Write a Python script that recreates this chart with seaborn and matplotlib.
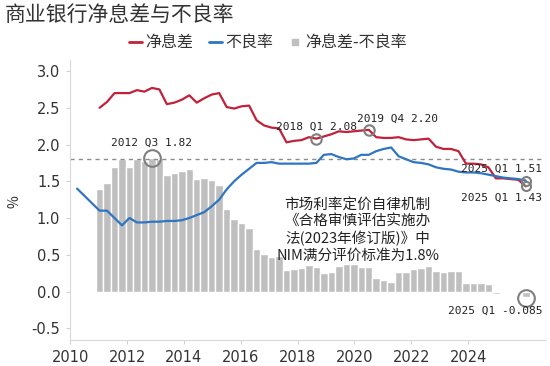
import numpy as np
import pandas as pd
import matplotlib
matplotlib.use('Agg')
import matplotlib.pyplot as plt
from matplotlib.lines import Line2D
import seaborn as sns

# quarterly series, 2010 Q1 .. 2025 Q1
quarters = ['{} Q{}'.format(y, q) for y in range(2010, 2026) for q in range(1, 5)][:61]

nim = [np.nan, np.nan, np.nan, 2.50,
       2.58, 2.70, 2.70, 2.70,
       2.74, 2.72, 2.77, 2.75,
       2.55, 2.57, 2.61, 2.67,
       2.57, 2.63, 2.68, 2.70,
       2.51, 2.49, 2.52, 2.53,
       2.33, 2.26, 2.23, 2.22,
       2.03, 2.05, 2.06, 2.10,
       2.08, 2.11, 2.14, 2.18,
       2.17, 2.18, 2.19, 2.20,
       2.10, 2.09, 2.09, 2.10,
       2.07, 2.06, 2.07, 2.08,
       1.97, 1.94, 1.94, 1.91,
       1.74, 1.74, 1.73, 1.69,
       1.54, 1.54, 1.53, 1.52,
       1.43]

npl = [1.40, 1.30, 1.20, 1.10,
       1.10, 1.00, 0.90, 1.00,
       0.94, 0.94, 0.95, 0.95,
       0.96, 0.96, 0.97, 1.00,
       1.04, 1.08, 1.16, 1.25,
       1.39, 1.50, 1.59, 1.67,
       1.75, 1.75, 1.76, 1.74,
       1.74, 1.74, 1.74, 1.74,
       1.75, 1.86, 1.87, 1.83,
       1.80, 1.81, 1.86, 1.86,
       1.91, 1.94, 1.96, 1.84,
       1.80, 1.76, 1.75, 1.73,
       1.69, 1.67, 1.66, 1.63,
       1.62, 1.62, 1.61, 1.59,
       1.57, 1.55, 1.54, 1.53,
       1.51]

year_ticks = [2010, 2012, 2014, 2016, 2018, 2020, 2022, 2024]
nim_benchmark = 1.8

RED = '#C0223B'
BLUE = '#2E75C2'
BAR = '#BFBFBF'
TXT = '#333333'

df = pd.DataFrame({'quarter': quarters, 'nim': nim, 'npl': npl})
df['idx'] = np.arange(len(df))
df['spread'] = (df['nim'] - df['npl']).round(3)
bars = df.dropna(subset=['spread'])

sns.set_theme(style='white')
plt.rcParams['font.family'] = ['Noto Sans CJK SC', 'DejaVu Sans']
plt.rcParams['axes.unicode_minus'] = False

fig, ax = plt.subplots(figsize=(5.5, 3.66), dpi=100)
fig.subplots_adjust(left=0.1273, right=0.9909, bottom=0.071, top=0.836)

sns.barplot(data=bars, x='idx', y='spread', native_scale=True, color=BAR,
            width=1.0, errorbar=None, saturation=1, ax=ax, zorder=1)
ax.axhline(nim_benchmark, color='#8C8C8C', lw=1, ls=(0, (3, 3)), zorder=2)
sns.lineplot(data=df, x='idx', y='nim', color=RED, lw=1.6, ax=ax, zorder=3)
sns.lineplot(data=df, x='idx', y='npl', color=BLUE, lw=1.6, ax=ax, zorder=3)

# highlighted points
def q(label):
    return quarters.index(label)

marks = [
    (q('2012 Q3'), df['spread'][q('2012 Q3')], 12, '2012 Q3 1.82', (0, 15)),
    (q('2018 Q1'), nim[q('2018 Q1')], 7.5, '2018 Q1 2.08', (0, 12)),
    (q('2019 Q4'), nim[q('2019 Q4')], 7.5, '2019 Q4 2.20', (29, 11)),
    (q('2025 Q1'), npl[q('2025 Q1')], 6.5, '2025 Q1 1.51', (-24, 12)),
    (q('2025 Q1'), nim[q('2025 Q1')], 6.5, '2025 Q1 1.43', (-24, -11)),
    (q('2025 Q1'), -0.085, 12, '2025 Q1 -0.085', (-31, -13)),
]
for xi, yi, ms, label, off in marks:
    ax.plot(xi, yi, marker='o', ms=ms, mfc='none', mec='#7F7F7F', mew=1.5, zorder=4)
    ax.annotate(label, (xi, yi), xytext=off, textcoords='offset pixels',
                ha='center', va='center', fontsize=8, family='DejaVu Sans Mono',
                color='#222222', zorder=5)

ax.text(37.5, 0.83, '市场利率定价自律机制\n《合格审慎评估实施办\n法(2023年修订版)》中\nNIM满分评价标准为1.8%',
        ha='center', va='center', multialignment='center', fontsize=10.5,
        linespacing=1.2, color='#222222', zorder=5)

# year axis sits on its own scale relative to the quarter bars
ax.set_xticks([-0.907 + 3.8 * (y - 2010) for y in year_ticks])
ax.set_xticklabels([str(y) for y in year_ticks])
ax.set_xlim(-0.95, 62.57)
ax.set_ylim(-0.66, 3.15)
ax.set_yticks([-0.5, 0, 0.5, 1.0, 1.5, 2.0, 2.5, 3.0])
ax.set_yticklabels(['-0.5', '0.0', '0.5', '1.0', '1.5', '2.0', '2.5', '3.0'])
ax.set_xlabel('')
ax.set_ylabel('')
for lab in ax.get_xticklabels() + ax.get_yticklabels():
    lab.set_family('DejaVu Sans')
ax.tick_params(axis='both', labelsize=10.5, colors='#D0D0D0', labelcolor=TXT,
               length=3, width=0.8, direction='out', pad=4)
ax.tick_params(axis='x', bottom=True)
ax.tick_params(axis='y', left=True)
for s in ['top', 'right']:
    ax.spines[s].set_visible(False)
for s in ['left', 'bottom']:
    ax.spines[s].set_color('#D9D9D9')
    ax.spines[s].set_linewidth(0.8)

fig.text(0.027, 0.45, '%', rotation=90, ha='center', va='center', fontsize=10, color=TXT)
fig.text(0.008, 0.958, '商业银行净息差与不良率', ha='left', va='center', fontsize=15, color=TXT)

handles = [Line2D([], [], color=RED, lw=2),
           Line2D([], [], color=BLUE, lw=2),
           Line2D([], [], color=BAR, marker='s', ms=4, ls='none')]
fig.legend(handles, ['净息差', '不良率', '净息差-不良率'], loc='center',
           bbox_to_anchor=(0.487, 0.883), ncol=3, frameon=False, fontsize=11.5,
           handlelength=0.8, handletextpad=0.2, columnspacing=1.0, labelcolor=TXT)

fig.savefig('out.png', dpi=100)
